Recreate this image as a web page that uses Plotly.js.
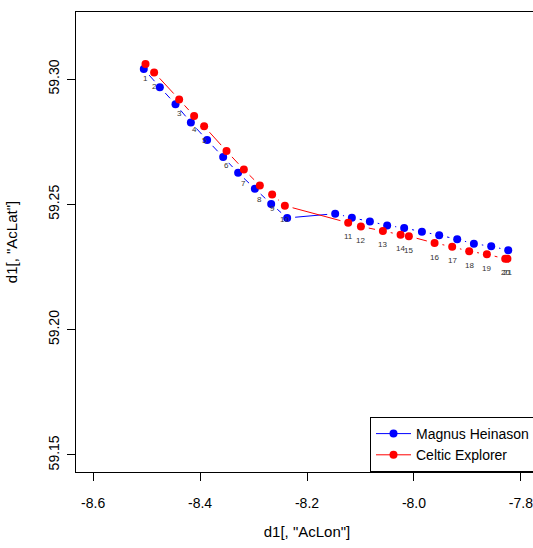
<!DOCTYPE html>
<html>
<head>
<meta charset="utf-8">
<script src="https://cdn.plot.ly/plotly-3.0.1.min.js"></script>
<style>
html,body{margin:0;padding:0;overflow:hidden;background:#fff;}
#chart{width:548px;height:548px;}
</style>
</head>
<body>
<div id="chart"></div>
<script>
// ---- data ----
const seriesNames = ["Magnus Heinason", "Celtic Explorer"];
const blueLon = [-8.5052,-8.4752,-8.4459,-8.4172,-8.3868,-8.3568,-8.3288,-8.2975,-8.2670,-8.2371,
                 -8.1473,-8.1161,-8.0824,-8.0501,-8.0183,-7.9851,-7.9528,-7.9191,-7.8879,-7.8555,-7.8237];
const blueLat = [59.3040,59.2968,59.2900,59.2827,59.2757,59.2689,59.2626,59.2563,59.2502,59.2446,
                 59.2463,59.2447,59.2432,59.2416,59.2406,59.2391,59.2377,59.2361,59.2343,59.2333,59.2317];
const redLon  = [-8.5020,-8.4859,-8.4391,-8.4111,-8.3924,-8.3505,-8.3181,-8.2882,-8.2652,-8.2414,
                 -8.1230,-8.0992,-8.0581,-8.0250,-8.0095,-7.9614,-7.9285,-7.8967,-7.8636,-7.8293,-7.8252];
const redLat  = [59.3060,59.3027,59.2919,59.2853,59.2812,59.2713,59.2639,59.2576,59.2540,59.2495,
                 59.2427,59.2412,59.2394,59.2379,59.2373,59.2346,59.2331,59.2313,59.2301,59.2283,59.2283];
const pointLabels = ["1","2","3","4","5","6","7","8","9","10","11","12","13","14","15","16","17","18","19","20","21"];
const xTickVals = [-8.6,-8.4,-8.2,-8.0,-7.8];
const xTickText = ["-8.6","-8.4","-8.2","-8.0","-7.8"];
const yTickVals = [59.15,59.20,59.25,59.30];
const yTickText = ["59.15","59.20","59.25","59.30"];

// ---- layout constants ----
const W = 548, H = 548;
const M = {l:76, r:10, t:12, b:76};
const xRange = [-8.632, -7.768];
const yRange = [59.1432, 59.3268];
const kx = (W - M.l - M.r) / (xRange[1] - xRange[0]);
const ky = (H - M.t - M.b) / (yRange[1] - yRange[0]);
const GAP = 8; // px gap around points (R type="b")

function gapped(xs, ys){
  const ox = [], oy = [];
  for (let i = 0; i < xs.length - 1; i++){
    const ddx = xs[i+1]-xs[i], ddy = ys[i+1]-ys[i];
    const L = Math.hypot(ddx*kx, ddy*ky);
    if (L === 0) continue;
    const f = GAP / L;
    if (f < 0.5){
      ox.push(xs[i]+f*ddx, xs[i+1]-f*ddx, null);
      oy.push(ys[i]+f*ddy, ys[i+1]-f*ddy, null);
    }
  }
  return {x:ox, y:oy};
}

const BLUE = "#0000FF", RED = "#FF0000";
const bSeg = gapped(blueLon, blueLat);
const rSeg = gapped(redLon, redLat);

const traces = [
  {x:bSeg.x, y:bSeg.y, mode:"lines", line:{color:BLUE, width:1}, showlegend:false, hoverinfo:"skip", connectgaps:false},
  {x:blueLon, y:blueLat, mode:"markers", marker:{color:BLUE, size:8, line:{width:0}}, showlegend:false},
  {x:rSeg.x, y:rSeg.y, mode:"lines", line:{color:RED, width:1}, showlegend:false, hoverinfo:"skip", connectgaps:false},
  {x:redLon, y:redLat, mode:"markers", marker:{color:RED, size:8, line:{width:0}}, showlegend:false},
  {x:[null], y:[null], mode:"lines+markers", name:seriesNames[0], line:{color:BLUE, width:1}, marker:{color:BLUE, size:8}},
  {x:[null], y:[null], mode:"lines+markers", name:seriesNames[1], line:{color:RED, width:1}, marker:{color:RED, size:8}}
];

const annotations = redLon.map((x, i) => ({
  x: x, y: redLat[i], xref:"x", yref:"y", text: pointLabels[i], showarrow:false,
  yshift:-14, font:{family:"Liberation Sans, Arial, sans-serif", size:8, color:"#333"}
}));

const FONT = "Liberation Sans, Arial, sans-serif";
const layout = {
  width:W, height:H, margin:M,
  paper_bgcolor:"#fff", plot_bgcolor:"#fff",
  font:{family:FONT, size:14, color:"#000"},
  showlegend:true,
  legend:{x:(370 - M.l)/(W - M.l - M.r), xanchor:"left", y:0, yanchor:"bottom", bgcolor:"#fff",
          bordercolor:"#000", borderwidth:1, itemwidth:35,
          font:{family:FONT, size:14, color:"#000"}, traceorder:"normal"},
  xaxis:{range:xRange, showline:true, mirror:true, linecolor:"#000", linewidth:1,
         ticks:"outside", ticklen:8, tickcolor:"#000", tickvals:xTickVals, ticktext:xTickText,
         ticklabelstandoff:10,
         showgrid:false, zeroline:false, tickfont:{size:14},
         title:{text:'d1[, "AcLon"]', font:{size:15}, standoff:16}},
  yaxis:{range:yRange, showline:true, mirror:true, linecolor:"#000", linewidth:1,
         ticks:"outside", ticklen:8, tickcolor:"#000", tickvals:yTickVals, ticktext:yTickText,
         ticklabelstandoff:2,
         tickangle:-90, showgrid:false, zeroline:false, tickfont:{size:14},
         title:{text:'d1[, "AcLat"]', font:{size:15}, standoff:25}},
  annotations:annotations
};

Plotly.newPlot("chart", traces, layout, {staticPlot:true, displayModeBar:false});
</script>
</body>
</html>
